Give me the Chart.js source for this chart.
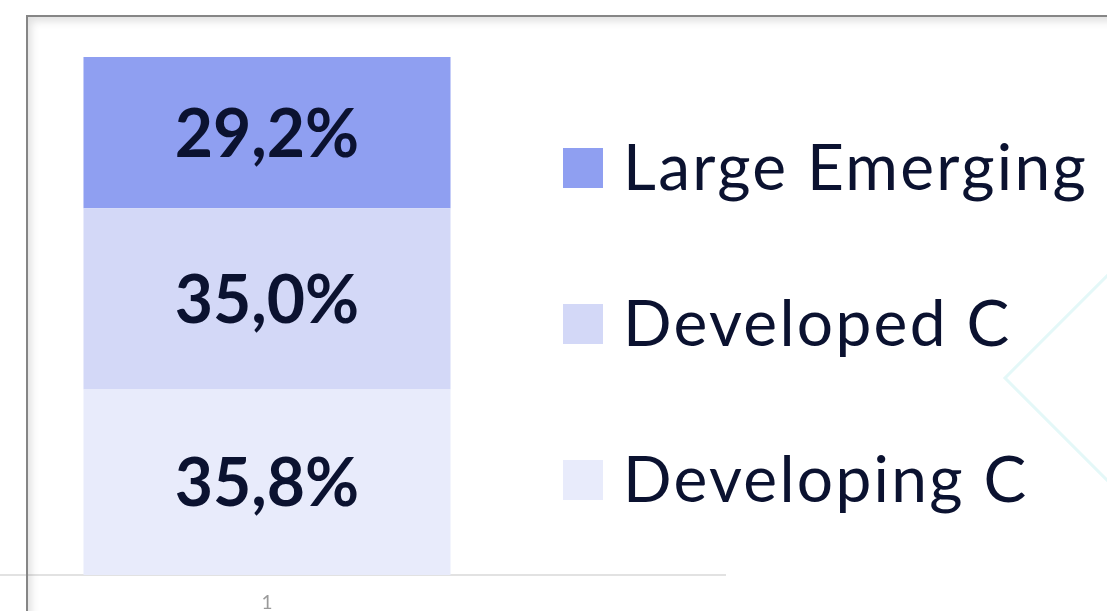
<!DOCTYPE html>
<html>
<head>
<meta charset="utf-8">
<script src="https://cdn.jsdelivr.net/npm/chart.js@4.4.1/dist/chart.umd.min.js"></script>
<style>
  html, body { margin: 0; padding: 0; width: 1107px; height: 611px; overflow: hidden; background: #fff; position: relative; }
  #wrap { position: absolute; left: -191px; top: 0; width: 1298px; height: 611px; }
  #frame { position: absolute; left: 26px; top: 15px; width: 2000px; height: 2000px;
    border-top: 2px solid #868686; border-left: 2px solid #868686;
    box-shadow: inset 3px 4px 8px rgba(0,0,0,0.13); pointer-events: none; }
  #diamond { position: absolute; width: 300px; height: 300px; left: 1065px; top: 228px;
    border: 3px solid #e4f8f8; transform: rotate(45deg); box-sizing: border-box; pointer-events: none; }
</style>
</head>
<body>
<div id="diamond"></div>
<div id="wrap"><canvas id="c" width="1298" height="611" style="width:1298px;height:611px"></canvas></div>
<div id="frame"></div>
<script>
const categories = ['1'];
const seriesNames = ['Developing C', 'Developed C', 'Large Emerging'];
const developing = [35.8];
const developed = [35.0];
const largeEmerging = [29.2];
const seriesColors = ['#e8ebfb', '#d3d8f7', '#8f9ff1'];

const textColor = '#0b1230';

const valueLabels = {
  id: 'valueLabels',
  afterDatasetsDraw(chart) {
    const ctx = chart.ctx;
    ctx.save();
    ctx.font = 'bold 66px Lato';
    ctx.fillStyle = textColor;
    ctx.textAlign = 'center';
    ctx.textBaseline = 'alphabetic';
    chart.data.datasets.forEach((ds, i) => {
      const meta = chart.getDatasetMeta(i);
      meta.data.forEach((bar, j) => {
        const v = ds.data[j];
        const yc = (bar.y + bar.base) / 2;
        ctx.fillText(v.toFixed(1).replace('.', ',') + '%', bar.x, yc + 24);
      });
    });
    ctx.restore();
  }
};

const sideLegend = {
  id: 'sideLegend',
  afterDraw(chart) {
    const ctx = chart.ctx;
    const ds = chart.data.datasets.slice().reverse();
    const boxX = 754, textX = 814, firstY = 168, step = 156, box = 40;
    ctx.save();
    ctx.font = '64px Lato';
    ctx.letterSpacing = '2.3px';
    ctx.textAlign = 'left';
    ctx.textBaseline = 'alphabetic';
    ds.forEach((d, i) => {
      const cy = firstY + i * step;
      ctx.fillStyle = d.backgroundColor;
      ctx.fillRect(boxX, cy - box / 2, box, box);
      ctx.fillStyle = textColor;
      ctx.fillText(d.label, textX, cy + 22);
    });
    ctx.restore();
  }
};

new Chart(document.getElementById('c'), {
  type: 'bar',
  data: {
    labels: categories,
    datasets: [
      { label: seriesNames[0], data: developing, backgroundColor: seriesColors[0] },
      { label: seriesNames[1], data: developed, backgroundColor: seriesColors[1] },
      { label: seriesNames[2], data: largeEmerging, backgroundColor: seriesColors[2] }
    ]
  },
  options: {
    responsive: false,
    animation: false,
    devicePixelRatio: 1,
    layout: { padding: { left: 0, right: 382, top: 57, bottom: 0 } },
    datasets: { bar: { barPercentage: 0.4007, categoryPercentage: 1, borderWidth: 0 } },
    plugins: { legend: { display: false }, tooltip: { enabled: false } },
    scales: {
      x: {
        stacked: true,
        grid: { display: false, drawTicks: false },
        border: { display: true, color: '#e2e2e2', width: 2 },
        ticks: { color: '#9a9a9a', font: { family: 'Lato', size: 19 }, padding: 16 },
        afterFit(s) { s.height = 36; }
      },
      y: { stacked: true, display: false, min: 0, max: 100 }
    }
  },
  plugins: [valueLabels, sideLegend]
});
</script>
</body>
</html>
